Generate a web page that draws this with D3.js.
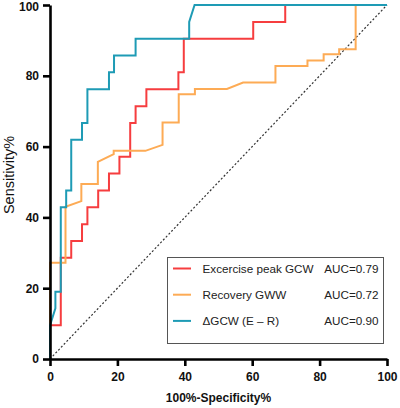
<!DOCTYPE html>
<html>
<head>
<meta charset="utf-8">
<script src="https://cdn.jsdelivr.net/npm/d3@7"></script>
<style>
  body { margin: 0; background: #fff; }
  svg { font-family: "Liberation Sans", Arial, sans-serif; }
</style>
</head>
<body>
<div class="chart"></div>
<script>
// roc curves, points: [100-specificity, sensitivity]
const names = ["Excercise peak GCW", "Recovery GWW", "\u0394GCW (E \u2013 R)"];
const aucs = ["AUC=0.79", "AUC=0.72", "AUC=0.90"];
const colors = ["#f63d3f", "#fdab55", "#1e9bb5"];

const peakFpr  = [0, 0, 3.2, 3.2, 6.3, 6.3, 9.5, 9.5, 11.1, 11.1, 14.3, 14.3, 17.5, 17.5, 20.6, 20.6, 23.8, 23.8, 25.4, 25.4, 28.6, 28.6, 38.1, 38.1, 39.7, 39.7, 60.3, 60.3, 69.8, 69.8, 100];
const peakSens = [0, 9.5, 9.5, 28.6, 28.6, 33.3, 33.3, 38.1, 38.1, 42.9, 42.9, 47.6, 47.6, 52.4, 52.4, 57.1, 57.1, 66.7, 66.7, 71.4, 71.4, 76.2, 76.2, 81.0, 81.0, 90.5, 90.5, 95.2, 95.2, 100, 100];

const recFpr  = [0, 0, 4.6, 4.6, 9.3, 9.3, 14.2, 14.2, 18.9, 18.9, 28.3, 33.4, 33.4, 38.2, 38.2, 43.0, 43.0, 52.5, 57.3, 66.9, 66.9, 76.4, 76.4, 81.2, 81.2, 85.8, 85.8, 90.7, 90.7, 100];
const recSens = [0, 27.2, 27.2, 43.0, 44.6, 49.4, 49.4, 55.7, 57.9, 58.8, 58.8, 60.5, 66.8, 66.8, 74.8, 74.8, 76.3, 76.3, 78.1, 78.1, 82.8, 82.8, 84.3, 84.3, 86.1, 86.1, 87.5, 87.5, 100, 100];

const deltaFpr  = [0, 0, 1.6, 1.6, 3.2, 3.2, 4.8, 4.8, 6.3, 6.3, 9.5, 9.5, 11.1, 11.1, 17.5, 17.5, 19.0, 19.0, 25.4, 25.4, 41.3, 41.3, 42.9, 100];
const deltaSens = [0, 9.5, 14.3, 19.0, 19.0, 42.9, 42.9, 47.6, 47.6, 61.9, 61.9, 66.7, 66.7, 76.2, 76.2, 81.0, 81.0, 85.7, 85.7, 90.5, 90.5, 95.2, 100, 100];

const ticks = [0, 20, 40, 60, 80, 100];

const curves = [
  d3.zip(peakFpr, peakSens),
  d3.zip(recFpr, recSens),
  d3.zip(deltaFpr, deltaSens)
];

const width = 400, height = 408;
const margin = {top: 5, right: 13, bottom: 49, left: 50};

const svg = d3.select(".chart").append("svg")
  .attr("width", width)
  .attr("height", height);

const x = d3.scaleLinear().domain([0, 100]).range([margin.left, width - margin.right]);
const y = d3.scaleLinear().domain([0, 100]).range([height - margin.bottom, margin.top]);

// reference diagonal
svg.append("line")
  .attr("x1", x(0)).attr("y1", y(0))
  .attr("x2", x(100)).attr("y2", y(100))
  .attr("stroke", "#333")
  .attr("stroke-width", 1.2)
  .attr("stroke-dasharray", "2,2");

const line = d3.line().x(d => x(d[0])).y(d => y(d[1]));

curves.forEach(function(c, i) {
  svg.append("path")
    .datum(c)
    .attr("d", line)
    .attr("fill", "none")
    .attr("stroke", colors[i])
    .attr("stroke-width", 2);
});

// axes
const xAxis = svg.append("g")
  .attr("transform", "translate(0," + y(0) + ")")
  .call(d3.axisBottom(x).tickValues(ticks).tickSize(7).tickSizeOuter(0).tickPadding(6));
const yAxis = svg.append("g")
  .attr("transform", "translate(" + x(0) + ",0)")
  .call(d3.axisLeft(y).tickValues(ticks).tickSize(7).tickSizeOuter(0).tickPadding(4));

[xAxis, yAxis].forEach(function(a) {
  a.select(".domain").attr("stroke", "#000").attr("stroke-width", 2.6);
  a.selectAll(".tick line").attr("stroke", "#000").attr("stroke-width", 2.6);
  a.selectAll(".tick text")
    .attr("fill", "#111")
    .style("font-size", "12px")
    .style("font-weight", "bold")
    .style("font-family", "Liberation Sans, Arial, sans-serif");
});
// keep the top label inside the window
yAxis.selectAll(".tick text").filter(d => d === 100).attr("y", 2);

svg.append("text")
  .attr("x", (x(0) + x(100)) / 2)
  .attr("y", 402)
  .attr("text-anchor", "middle")
  .style("font-size", "12px")
  .style("font-weight", "bold")
  .attr("fill", "#111")
  .text("100%-Specificity%");

svg.append("text")
  .attr("transform", "translate(14,175) rotate(-90)")
  .attr("text-anchor", "middle")
  .style("font-size", "14.5px")
  .attr("fill", "#111")
  .text("Sensitivity%");

// legend
const legend = svg.append("g");
legend.append("rect")
  .attr("x", 167.5).attr("y", 257.5)
  .attr("width", 216).attr("height", 86)
  .attr("fill", "#fff")
  .attr("stroke", "#555")
  .attr("stroke-width", 1);

names.forEach(function(n, i) {
  const ly = 268.5 + i * 26.2;
  legend.append("line")
    .attr("x1", 173).attr("x2", 191)
    .attr("y1", ly).attr("y2", ly)
    .attr("stroke", colors[i])
    .attr("stroke-width", 2);
  legend.append("text")
    .attr("x", 202.5).attr("y", ly + 4.2)
    .style("font-size", "11.7px")
    .attr("fill", "#222")
    .text(n);
  legend.append("text")
    .attr("x", 378.5).attr("y", ly + 4.2)
    .attr("text-anchor", "end")
    .style("font-size", "11.7px")
    .attr("fill", "#222")
    .text(aucs[i]);
});
</script>
</body>
</html>
